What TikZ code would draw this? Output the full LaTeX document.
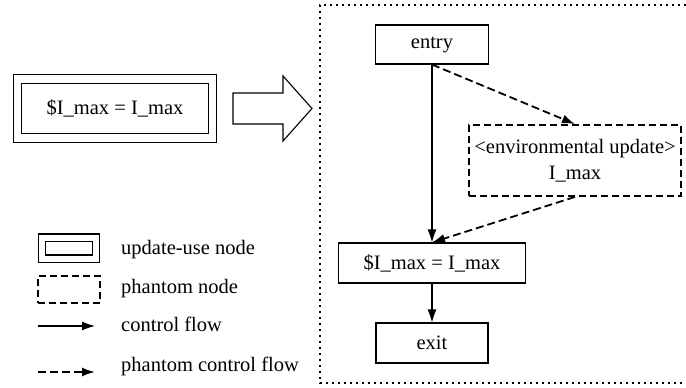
\documentclass[tikz,border=0pt]{standalone}
\usepackage{fontspec}
\setmainfont{Liberation Serif}
\usetikzlibrary{arrows.meta}
\newcommand*\cfgfont{\fontsize{20.5}{26}\selectfont}
\tikzset{cfgbox/.style={draw, line width=1.1pt, inner sep=0pt, align=center, font=\cfgfont},
         upbox/.style={cfgbox, double, double distance=7.5pt},
         phbox/.style={cfgbox, line width=1.8pt, dash pattern=on 7pt off 4pt},
         flow/.style={-{Latex[length=13pt,width=9pt]}, line width=1.1pt},
         phflow/.style={flow, line width=1.8pt, dash pattern=on 8pt off 4pt},
         legtext/.style={anchor=base west, inner sep=0pt, font=\cfgfont}}

\begin{document}
\begin{tikzpicture}[x=1pt, y=-1pt]
        \useasboundingbox (0,0) rectangle (686,388);
        % statement before the transformation
        \node[upbox, minimum width=195pt, minimum height=59pt] (orig) at (115,108.5) {\$I\_max = I\_max};
        \draw[line width=1.1pt] (233,93) -- (283,93) -- (283,76) -- (312,108.5) -- (283,141) -- (283,124) -- (233,124) -- cycle;
        % the control flow graph
        \draw[line width=2pt, dash pattern=on 2pt off 4pt] (686,5) -- (320,5) -- (320,383) -- (686,383);
        \node[cfgbox, minimum width=113pt, minimum height=39pt] (entry) at (432,44.5) {entry};
        \node[phbox, minimum width=212pt, minimum height=71pt] (env) at (575,160.5) {<environmental update>\\I\_max};
        \node[cfgbox, minimum width=187pt, minimum height=40pt] (assign) at (432,263) {\$I\_max = I\_max};
        \node[cfgbox, minimum width=112pt, minimum height=40pt] (exit) at (432,343) {exit};
        \draw[flow] (entry.south) -- (assign.north);
        \draw[phflow] (entry.south) -- (env.north);
        \draw[phflow] (env.south) -- (assign.north);
        \draw[flow] (assign) -- (exit);
        %
        \node[upbox, double distance=6pt, minimum width=54.5pt, minimum height=21pt] (lupd) at (69,248) {};
        \node[legtext] (tupd) at (121,254) {update-use node};
        \node[phbox, minimum width=62pt, minimum height=27pt] (lph) at (69,289.5) {};
        \node[legtext] (tph) at (121,293) {phantom node};
        \coordinate (cfa) at (38,326);
        \coordinate (cfb) at (95,326);
        \draw[flow] (cfa) -- (cfb);
        \node[legtext] (tcf) at (121,331) {control flow};
        \coordinate (pfa) at (38,372);
        \coordinate (pfb) at (95,372);
        \draw[phflow] (pfa) -- (pfb);
        \node[legtext] (tpf) at (121,371) {phantom control flow};
    \end{tikzpicture}
\end{document}
